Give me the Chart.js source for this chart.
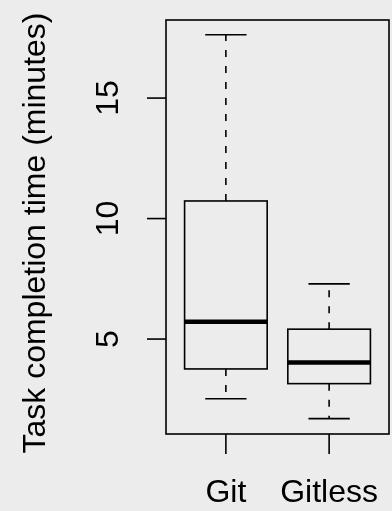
<!DOCTYPE html>
<html>
<head>
<meta charset="utf-8">
<script src="https://cdn.jsdelivr.net/npm/chart.js@4/dist/chart.umd.min.js"></script>
<style>
  html, body { margin: 0; padding: 0; background: #ececec; }
  #wrap { width: 392px; height: 511px; }
</style>
</head>
<body>
<div id="wrap"><canvas id="boxChart" width="392" height="511"></canvas></div>
<script>
// data
const groups = ['Git', 'Gitless'];
const positions = [1, 2];
const whiskerLow = [2.52, 1.70];
const q1 = [3.76, 3.15];
const medians = [5.72, 4.03];
const q3 = [10.73, 5.41];
const whiskerHigh = [17.63, 7.29];
const yTicks = [5, 10, 15];
const yTitle = 'Task completion time (minutes)';

const font = '32px "Liberation Sans", Arial, sans-serif';

const boxPlugin = {
    id: 'boxPlot',
    afterDatasetsDraw: chart => {
        const ctx = chart.ctx;
        const x = chart.scales.x;
        const y = chart.scales.y;
        const area = chart.chartArea;

        ctx.save();
        ctx.strokeStyle = '#000';
        ctx.lineCap = 'butt';

        for (let i = 0; i < groups.length; i++) {
            const cx = x.getPixelForValue(positions[i]);
            const bl = x.getPixelForValue(positions[i] - 0.4);
            const br = x.getPixelForValue(positions[i] + 0.4);
            const cl = x.getPixelForValue(positions[i] - 0.2);
            const cr = x.getPixelForValue(positions[i] + 0.2);

            // whiskers (dashed), drawn from the box outwards
            ctx.lineWidth = 1.6;
            ctx.setLineDash([7, 9]);
            ctx.beginPath();
            ctx.moveTo(cx, y.getPixelForValue(q3[i]));
            ctx.lineTo(cx, y.getPixelForValue(whiskerHigh[i]));
            ctx.moveTo(cx, y.getPixelForValue(q1[i]));
            ctx.lineTo(cx, y.getPixelForValue(whiskerLow[i]));
            ctx.stroke();
            ctx.setLineDash([]);

            // caps
            ctx.beginPath();
            ctx.moveTo(cl, y.getPixelForValue(whiskerHigh[i]));
            ctx.lineTo(cr, y.getPixelForValue(whiskerHigh[i]));
            ctx.moveTo(cl, y.getPixelForValue(whiskerLow[i]));
            ctx.lineTo(cr, y.getPixelForValue(whiskerLow[i]));
            ctx.stroke();

            // box
            const top = y.getPixelForValue(q3[i]);
            const bot = y.getPixelForValue(q1[i]);
            ctx.strokeRect(bl, top, br - bl, bot - top);

            // median
            ctx.lineWidth = 4.5;
            ctx.beginPath();
            ctx.moveTo(bl, y.getPixelForValue(medians[i]));
            ctx.lineTo(br, y.getPixelForValue(medians[i]));
            ctx.stroke();
        }

        // frame
        ctx.lineWidth = 1.6;
        ctx.strokeRect(area.left, area.top, area.right - area.left, area.bottom - area.top);

        // y ticks and labels
        ctx.fillStyle = '#000';
        ctx.font = font;
        ctx.textAlign = 'center';
        ctx.textBaseline = 'middle';
        yTicks.forEach(t => {
            const py = y.getPixelForValue(t);
            ctx.beginPath();
            ctx.moveTo(area.left, py);
            ctx.lineTo(area.left - 19, py);
            ctx.stroke();
            ctx.save();
            ctx.translate(109, py);
            ctx.rotate(-Math.PI / 2);
            ctx.fillText(String(t), 0, 0);
            ctx.restore();
        });

        // x ticks and labels
        groups.forEach((g, i) => {
            const px = x.getPixelForValue(positions[i]);
            ctx.beginPath();
            ctx.moveTo(px, area.bottom);
            ctx.lineTo(px, area.bottom + 20);
            ctx.stroke();
            ctx.fillText(g, px, 493);
        });

        // y axis title
        ctx.save();
        ctx.translate(36, (area.top + area.bottom) / 2 + 6);
        ctx.rotate(-Math.PI / 2);
        ctx.fillText(yTitle, 0, 0);
        ctx.restore();

        ctx.restore();
    }
};

const ctx = document.getElementById('boxChart').getContext('2d');

new Chart(ctx, {
    type: 'scatter',
    data: {
        datasets: [{
            data: positions.map((p, i) => ({ x: p, y: medians[i] })),
            pointRadius: 0,
            showLine: false
        }]
    },
    options: {
        responsive: false,
        animation: false,
        events: [],
        layout: { padding: { left: 166, right: 3, top: 20, bottom: 77 } },
        plugins: { legend: { display: false }, tooltip: { enabled: false } },
        scales: {
            x: { type: 'linear', min: 0.42, max: 2.58, display: false },
            y: { type: 'linear', min: 1.06, max: 18.24, display: false }
        }
    },
    plugins: [boxPlugin]
});
</script>
</body>
</html>
